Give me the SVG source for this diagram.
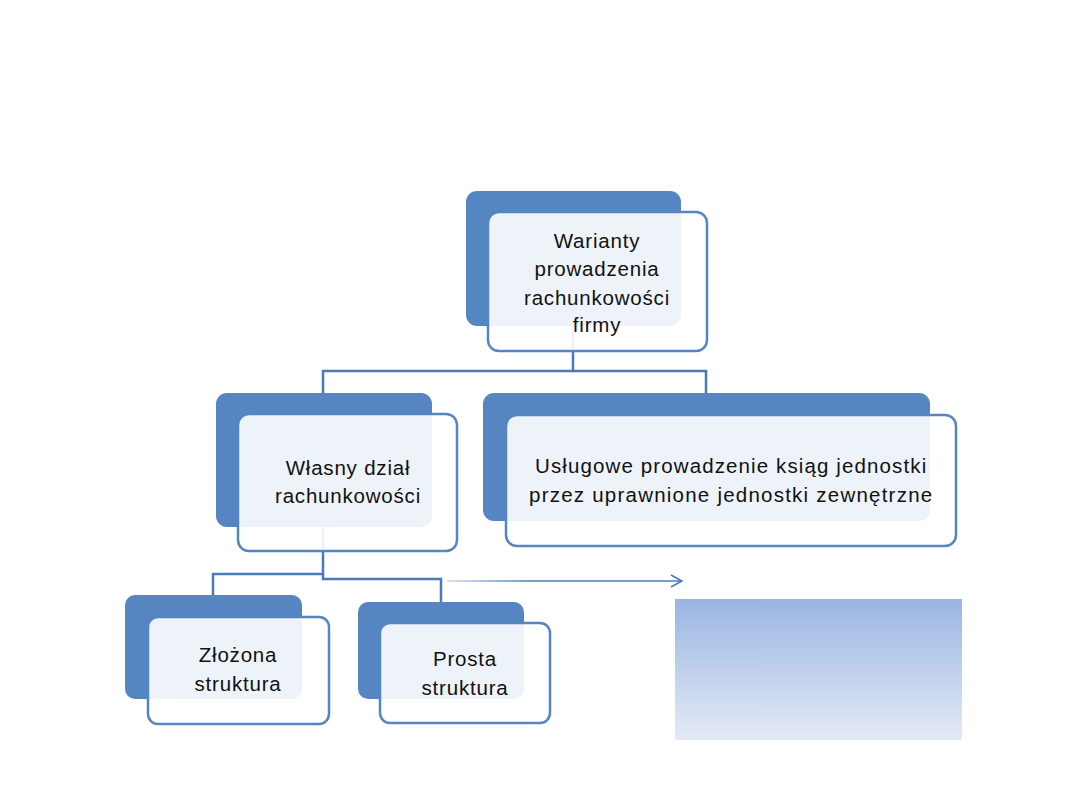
<svg xmlns="http://www.w3.org/2000/svg" width="1080" height="810" viewBox="0 0 1080 810">
<style>
.back{fill:#5586C2}
.front{fill:#FFFFFF;fill-opacity:0.9;stroke:#5586C2;stroke-width:2.5}
.conn{fill:none;stroke:#4A7AB8;stroke-width:2.5}
text{font-family:"Liberation Sans",Arial,sans-serif;font-size:20.5px;letter-spacing:0.8px;fill:#111;text-anchor:middle}
</style>
<defs>
<linearGradient id="g" x1="0" y1="0" x2="0" y2="1">
<stop offset="0" stop-color="#9AB5E2"/>
<stop offset="1" stop-color="#E3EAF5"/>
</linearGradient>
<linearGradient id="ag" gradientUnits="userSpaceOnUse" x1="447" y1="0" x2="682" y2="0">
<stop offset="0" stop-color="#C9D8EE"/>
<stop offset="0.35" stop-color="#4A7AB8"/>
</linearGradient>
<marker id="arr" markerWidth="14" markerHeight="14" refX="12" refY="7" orient="auto" markerUnits="userSpaceOnUse">
<path d="M1,1 L12,7 L1,13" fill="none" stroke="#4A7AB8" stroke-width="1.5"/>
</marker>
</defs>
<rect width="1080" height="810" fill="#FFFFFF"/>
<g id="connectors">
<path class="conn" d="M573,326 V371 H323 V393"/>
<path class="conn" d="M573,371 H706 V393"/>
<path class="conn" d="M323,527 V574 H213 V595"/>
<path class="conn" d="M323,574 V579 H441 V602"/>
<path d="M447,581 H682" stroke="url(#ag)" stroke-width="1.5" fill="none" marker-end="url(#arr)"/>
</g>
<g id="node-warianty">
<rect class="back" x="466" y="191" width="215" height="135" rx="11"/>
<rect class="front" x="488" y="212" width="219" height="139" rx="11"/>
<text x="597" y="248">Warianty</text>
<text x="597" y="276">prowadzenia</text>
<text x="597" y="305">rachunkowości</text>
<text x="597" y="332">firmy</text>
</g>
<g id="node-wlasny">
<rect class="back" x="216" y="393" width="216" height="134" rx="11"/>
<rect class="front" x="238" y="414" width="219" height="137" rx="11"/>
<text x="348" y="475">Własny dział</text>
<text x="348" y="503">rachunkowości</text>
</g>
<g id="node-uslugowe">
<rect class="back" x="483" y="393" width="447" height="128" rx="11"/>
<rect class="front" x="506" y="415" width="450" height="131" rx="11"/>
<text x="731" y="473" textLength="392" lengthAdjust="spacing">Usługowe prowadzenie ksiąg jednostki</text>
<text x="731" y="502" textLength="404" lengthAdjust="spacing">przez uprawnione jednostki zewnętrzne</text>
</g>
<g id="node-zlozona">
<rect class="back" x="125" y="595" width="177" height="104" rx="10"/>
<rect class="front" x="148" y="617" width="181" height="107" rx="10"/>
<text x="238" y="662">Złożona</text>
<text x="238" y="691">struktura</text>
</g>
<g id="node-prosta">
<rect class="back" x="358" y="602" width="166" height="97" rx="10"/>
<rect class="front" x="380" y="623" width="170" height="100" rx="10"/>
<text x="465" y="666">Prosta</text>
<text x="465" y="695">struktura</text>
</g>
<g id="gradient-box">
<rect x="675" y="599" width="287" height="141" fill="url(#g)"/>
</g>
</svg>
